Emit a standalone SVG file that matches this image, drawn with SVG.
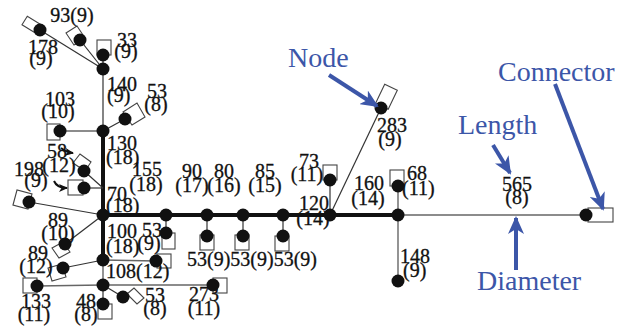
<svg xmlns="http://www.w3.org/2000/svg" width="633" height="328" viewBox="0 0 633 328">
  <style>
    .thin { stroke: #333; stroke-width: 1.2; fill: none; }
    .thick { stroke: #111; stroke-width: 4; fill: none; }
    .gray { stroke: #666; stroke-width: 1.4; fill: none; }
    .box { fill: #fff; stroke: #444; stroke-width: 1.1; }
    .dot { fill: #111; }
    .lbl { font-family: "Liberation Serif", "Times New Roman", serif; font-size: 20px; fill: #111; stroke: #111; stroke-width: 0.3; }
    .mid { text-anchor: middle; }
    .note { font-family: "Liberation Serif", "Times New Roman", serif; font-size: 28px; fill: #3c56a8; }
    .callout { stroke: #3c56a8; stroke-width: 4; fill: none; }
    .hook { stroke: #111; stroke-width: 2; fill: none; }
  </style>
  <defs>
    <marker id="blueHead" markerUnits="userSpaceOnUse" markerWidth="18" markerHeight="16" refX="16" refY="8" orient="auto">
      <path d="M0,0 L18,8 L0,16 L5,8 Z" fill="#3c56a8"/>
    </marker>
    <marker id="blackHead" markerUnits="userSpaceOnUse" markerWidth="9" markerHeight="8" refX="8" refY="4" orient="auto">
      <path d="M0,0 L9,4 L0,8 L2.5,4 Z" fill="#111"/>
    </marker>
  </defs>

  <!-- connectors -->
  <g id="connectors">
    <line class="thin" x1="103" y1="69" x2="103" y2="55"/>
    <line class="thin" x1="103" y1="69" x2="80" y2="40"/>
    <line class="thin" x1="103" y1="69" x2="40" y2="30"/>
    <line class="thin" x1="103" y1="69" x2="103" y2="131"/>
    <line class="thin" x1="103" y1="131" x2="125" y2="119"/>
    <line class="gray" x1="103" y1="131" x2="60" y2="131"/>
    <line class="thick" x1="103" y1="131" x2="103" y2="215"/>
    <line class="thin" x1="103" y1="188" x2="84" y2="171"/>
    <line class="thin" x1="103" y1="188" x2="84" y2="188"/>
    <line class="thin" x1="103" y1="215" x2="29" y2="202"/>
    <line class="thin" x1="103" y1="215" x2="65" y2="244"/>
    <line class="thick" x1="103" y1="215" x2="103" y2="260"/>
    <line class="thin" x1="103" y1="260" x2="63" y2="268"/>
    <line class="gray" x1="103" y1="260" x2="156" y2="261"/>
    <line class="gray" x1="103" y1="260" x2="103" y2="285"/>
    <line class="gray" x1="103" y1="285" x2="37" y2="286"/>
    <line class="gray" x1="103" y1="285" x2="213" y2="285"/>
    <line class="thin" x1="103" y1="285" x2="103" y2="304"/>
    <line class="thin" x1="103" y1="285" x2="123" y2="297"/>
    <line class="thick" x1="103" y1="215" x2="398" y2="215"/>
    <line class="thin" x1="166" y1="215" x2="166" y2="233"/>
    <line class="thin" x1="207" y1="215" x2="207" y2="236"/>
    <line class="thin" x1="243" y1="215" x2="243" y2="236"/>
    <line class="thin" x1="283" y1="215" x2="283" y2="236"/>
    <line class="thin" x1="330" y1="215" x2="330" y2="180"/>
    <line class="thin" x1="330" y1="215" x2="381" y2="108"/>
    <line class="gray" x1="398" y1="215" x2="398" y2="186"/>
    <line class="gray" x1="398" y1="215" x2="398" y2="281"/>
    <line class="gray" x1="398" y1="215" x2="586" y2="215"/>
  </g>

  <!-- junction nodes -->
  <g id="j1"><circle class="dot" cx="103" cy="69" r="6.5"/></g>
  <g id="j2"><circle class="dot" cx="103" cy="131" r="6.5"/></g>
  <g id="j3"><circle class="dot" cx="103" cy="215" r="6.5"/></g>
  <g id="j4"><circle class="dot" cx="103" cy="260" r="6.5"/></g>
  <g id="j5"><circle class="dot" cx="103" cy="285" r="6.5"/></g>
  <g id="h1"><circle class="dot" cx="166" cy="215" r="6.5"/></g>
  <g id="h2"><circle class="dot" cx="207" cy="215" r="6.5"/></g>
  <g id="h3"><circle class="dot" cx="243" cy="215" r="6.5"/></g>
  <g id="h4"><circle class="dot" cx="283" cy="215" r="6.5"/></g>
  <g id="h5"><circle class="dot" cx="330" cy="215" r="6.5"/></g>
  <g id="h6"><circle class="dot" cx="398" cy="215" r="6.5"/></g>

  <!-- leaf nodes with their terminal boxes -->
  <g id="leaf-33"><rect class="box" x="97" y="40" width="14" height="15"/><circle class="dot" cx="103" cy="55" r="6.5"/></g>
  <g id="leaf-93"><polygon class="box" points="66,33 77,26 85,38 74,45"/><circle class="dot" cx="80" cy="40" r="6.5"/></g>
  <g id="leaf-178"><polygon class="box" points="22,24.7 27.3,16.2 44.3,26.8 39,35.3"/><circle class="dot" cx="40" cy="30" r="6.5"/></g>
  <g id="leaf-53a"><polygon class="box" points="123,112 137,103 145,117 132,125"/><circle class="dot" cx="125" cy="119" r="6.5"/></g>
  <g id="leaf-103"><rect class="box" x="47" y="124" width="13" height="16"/><circle class="dot" cx="60" cy="131" r="6.5"/></g>
  <g id="leaf-58"><polygon class="box" points="73,163 80,154 91,162 85,171"/><circle class="dot" cx="84" cy="171" r="6.5"/></g>
  <g id="leaf-188"><rect class="box" x="68" y="180" width="15" height="15"/><circle class="dot" cx="84" cy="188" r="6.5"/></g>
  <g id="leaf-198"><polygon class="box" points="13,205 17,190 32,194 28,209"/><circle class="dot" cx="29" cy="202" r="6.5"/></g>
  <g id="leaf-89a"><polygon class="box" points="52,248 63,242 70,252 59,258"/><circle class="dot" cx="65" cy="244" r="6.5"/></g>
  <g id="leaf-89b"><polygon class="box" points="48,268 62,264 66,277 52,281"/><circle class="dot" cx="63" cy="268" r="6.5"/></g>
  <g id="leaf-108"><rect class="box" x="157" y="254" width="14" height="14"/><circle class="dot" cx="156" cy="261" r="6.5"/></g>
  <g id="leaf-133"><rect class="box" x="23" y="278" width="14" height="15"/><circle class="dot" cx="37" cy="286" r="6.5"/></g>
  <g id="leaf-273"><rect class="box" x="213" y="278" width="14" height="15"/><circle class="dot" cx="213" cy="285" r="6.5"/></g>
  <g id="leaf-48"><rect class="box" x="98" y="304" width="14" height="15"/><circle class="dot" cx="103" cy="304" r="6.5"/></g>
  <g id="leaf-53c"><polygon class="box" points="127,294 134,288 144,298 137,304"/><circle class="dot" cx="123" cy="297" r="6.5"/></g>
  <g id="leaf-53h1"><rect class="box" x="162" y="233" width="13" height="16"/><circle class="dot" cx="166" cy="233" r="6.5"/></g>
  <g id="leaf-53h2"><rect class="box" x="200" y="235" width="14" height="15"/><circle class="dot" cx="207" cy="236" r="6.5"/></g>
  <g id="leaf-53h3"><rect class="box" x="235" y="235" width="14" height="15"/><circle class="dot" cx="243" cy="236" r="6.5"/></g>
  <g id="leaf-53h4"><rect class="box" x="275" y="236" width="14" height="15"/><circle class="dot" cx="283" cy="236" r="6.5"/></g>
  <g id="leaf-73"><rect class="box" x="323" y="165" width="14" height="15"/><circle class="dot" cx="330" cy="180" r="6.5"/></g>
  <g id="leaf-283"><polygon class="box" points="375.6,103.2 388.2,109.2 397.3,90.3 384.7,84.3"/><circle class="dot" cx="381" cy="108" r="6.5"/></g>
  <g id="leaf-68"><rect class="box" x="390" y="170" width="14" height="16"/><circle class="dot" cx="398" cy="186" r="6.5"/></g>
  <g id="leaf-148"><circle class="dot" cx="398" cy="281" r="6.5"/></g>
  <g id="leaf-565"><rect class="box" x="588" y="208" width="25" height="14"/><circle class="dot" cx="586" cy="215" r="6.5"/></g>

  <!-- length (diameter) labels, two lines each -->
  <g id="labels" class="lbl">
    <text x="72" y="22" class="mid">93(9)</text>
    <text class="mid"><tspan x="43" y="54">178</tspan><tspan x="41" y="65">(9)</tspan></text>
    <text class="mid"><tspan x="127" y="47">33</tspan><tspan x="126" y="58">(9)</tspan></text>
    <text><tspan x="107" y="91">140</tspan><tspan x="107" y="102">(9)</tspan></text>
    <text class="mid"><tspan x="157" y="98">53</tspan><tspan x="156" y="111">(8)</tspan></text>
    <text class="mid"><tspan x="60" y="106">103</tspan><tspan x="58" y="118">(10)</tspan></text>
    <text><tspan x="107" y="150">130</tspan><tspan x="106" y="164">(18)</tspan></text>
    <text class="mid"><tspan x="57" y="158">58</tspan><tspan x="59" y="172">(12)</tspan></text>
    <text class="mid"><tspan x="29" y="176">198</tspan><tspan x="36" y="187">(9)</tspan></text>
    <text class="mid"><tspan x="147" y="176">155</tspan><tspan x="146" y="191">(18)</tspan></text>
    <text><tspan x="107" y="201">70</tspan><tspan x="106" y="212">(18)</tspan></text>
    <text class="mid"><tspan x="192" y="178">90</tspan><tspan x="192" y="192">(17)</tspan></text>
    <text class="mid"><tspan x="224" y="178">80</tspan><tspan x="224" y="192">(16)</tspan></text>
    <text class="mid"><tspan x="265" y="178">85</tspan><tspan x="265" y="192">(15)</tspan></text>
    <text class="mid"><tspan x="309" y="168">73</tspan><tspan x="307" y="181">(11)</tspan></text>
    <text class="mid"><tspan x="314" y="210">120</tspan><tspan x="313" y="225">(14)</tspan></text>
    <text class="mid"><tspan x="369" y="190">160</tspan><tspan x="368" y="205">(14)</tspan></text>
    <text><tspan x="407" y="180">68</tspan><tspan x="402" y="195">(11)</tspan></text>
    <text class="mid"><tspan x="392" y="132">283</tspan><tspan x="390" y="146">(9)</tspan></text>
    <text class="mid"><tspan x="517" y="191">565</tspan><tspan x="517" y="204">(8)</tspan></text>
    <text><tspan x="400" y="263">148</tspan><tspan x="403" y="277">(9)</tspan></text>
    <text class="mid"><tspan x="58" y="227">89</tspan><tspan x="58" y="240">(10)</tspan></text>
    <text><tspan x="107" y="238">100</tspan><tspan x="106" y="253">(18)</tspan></text>
    <text class="mid"><tspan x="152" y="237">53</tspan><tspan x="149" y="250">(9)</tspan></text>
    <text class="mid"><tspan x="38" y="260">89</tspan><tspan x="36" y="273">(12)</tspan></text>
    <text x="106" y="278">108(12)</text>
    <text x="187" y="266">53(9)53(9)53(9)</text>
    <text class="mid"><tspan x="36" y="308">133</tspan><tspan x="34" y="321">(11)</tspan></text>
    <text class="mid"><tspan x="86" y="308">48</tspan><tspan x="86" y="321">(8)</tspan></text>
    <text class="mid"><tspan x="155" y="302">53</tspan><tspan x="155" y="315">(8)</tspan></text>
    <text class="mid"><tspan x="204" y="301">273</tspan><tspan x="204" y="315">(11)</tspan></text>
  </g>

  <!-- small pointers from labels to their segments -->
  <g id="pointers">
    <path class="hook" d="M61,148 Q66,152 73,153" marker-end="url(#blackHead)"/>
    <path class="hook" d="M54,181 Q57,188 67,188" marker-end="url(#blackHead)"/>
  </g>

  <!-- legend annotations -->
  <g id="legend">
    <text class="note" x="288" y="67">Node</text>
    <path class="callout" d="M329,75 L377,106" marker-end="url(#blueHead)"/>
    <text class="note" x="458" y="134">Length</text>
    <path class="callout" d="M493,145 L510,173" marker-end="url(#blueHead)"/>
    <text class="note" x="498" y="81">Connector</text>
    <path class="callout" d="M555,84 L603,209" marker-end="url(#blueHead)"/>
    <text class="note" x="477" y="290">Diameter</text>
    <path class="callout" d="M516,270 L516,218" marker-end="url(#blueHead)"/>
  </g>
</svg>
